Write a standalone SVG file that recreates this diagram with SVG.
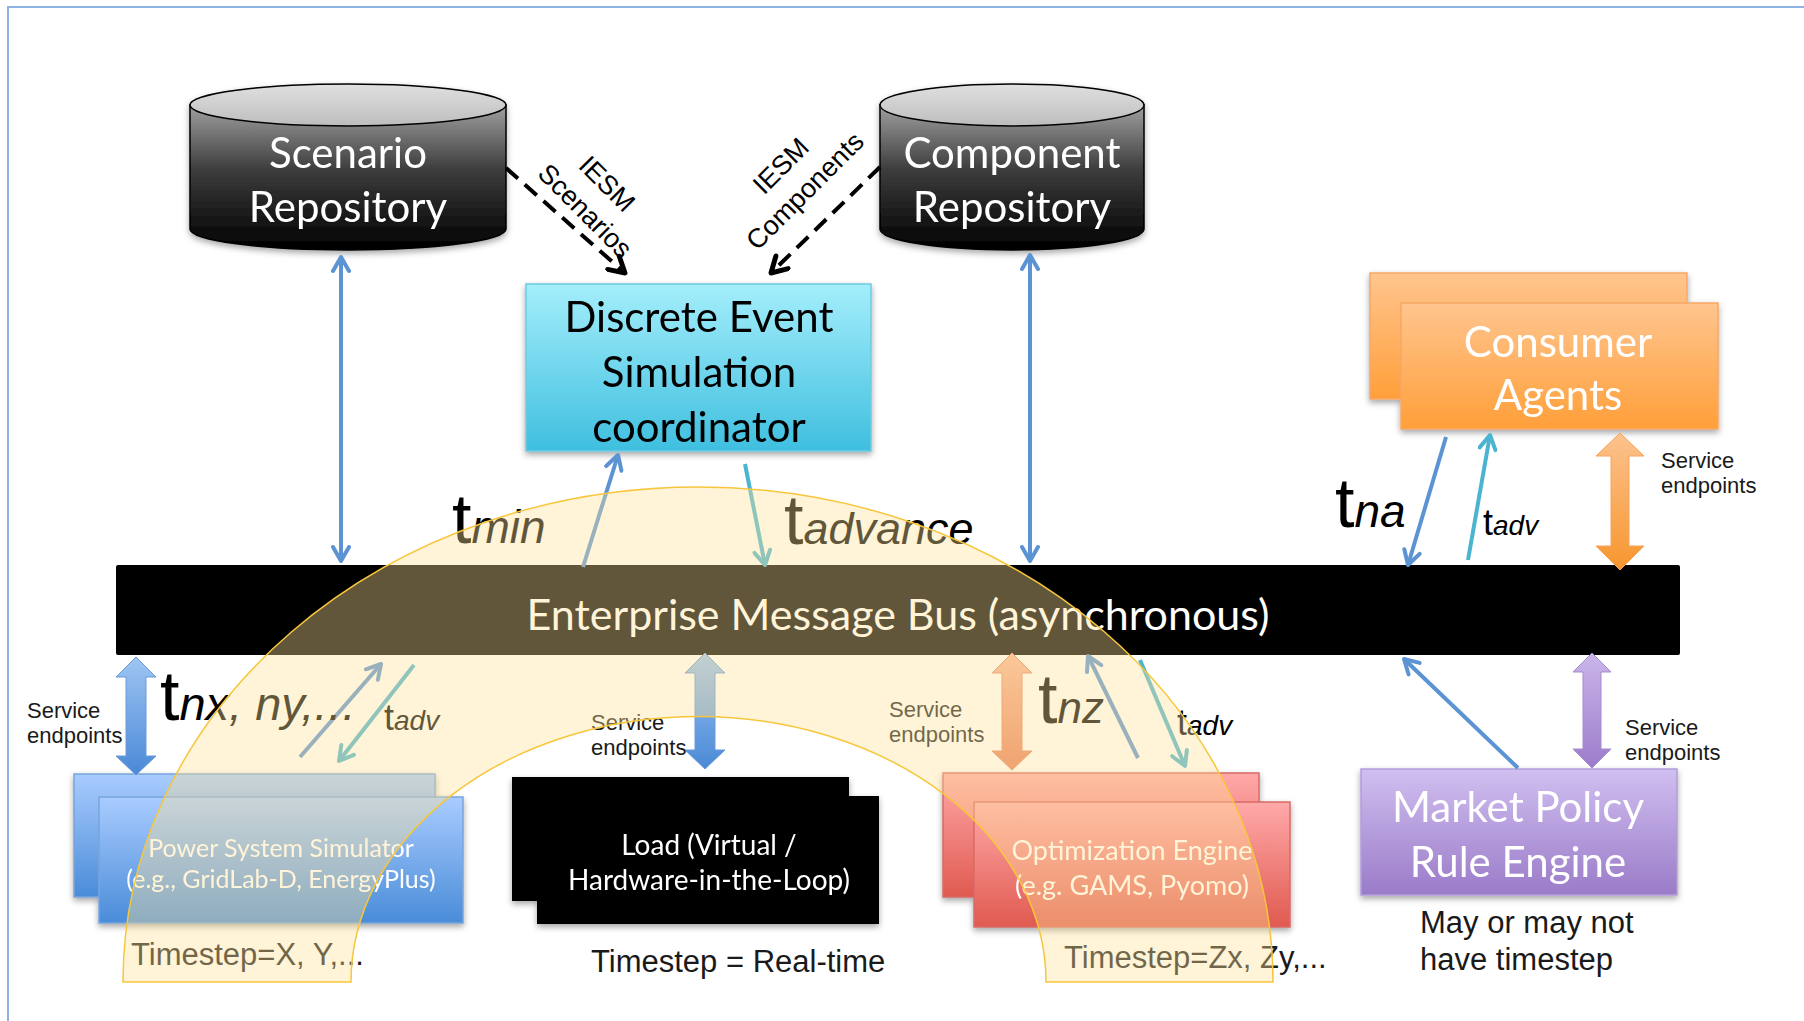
<svg xmlns="http://www.w3.org/2000/svg" width="1804" height="1021" viewBox="0 0 1804 1021">
<style>
.box{font-family:Lato,"Open Sans",sans-serif;text-anchor:middle}
.lbl{font-family:"Liberation Sans",Arial,sans-serif}
.se{font-family:"Liberation Sans",Arial,sans-serif;font-size:22px;fill:#1a1a1a}
.ts{font-family:"Liberation Sans",Arial,sans-serif;font-size:31px;fill:#1a1a1a}
.blue{stroke:#5b93d3;stroke-width:4;fill:none}
.teal{stroke:#4bb4d0;stroke-width:4;fill:none}
.dash{stroke:#000;stroke-width:4;fill:none;stroke-dasharray:16 9}
.it{font-style:italic}
</style>
<defs>
<filter id="sh" x="-10%" y="-10%" width="120%" height="130%"><feDropShadow dx="0" dy="3" stdDeviation="3" flood-color="#000" flood-opacity="0.35"/></filter>
<linearGradient id="gCylBody" x1="0" y1="0" x2="0" y2="1"><stop offset="0" stop-color="#a0a0a0"/><stop offset="0.45" stop-color="#3c3c3c"/><stop offset="1" stop-color="#000"/></linearGradient>
<linearGradient id="gCylTop" x1="0" y1="0" x2="0" y2="1"><stop offset="0" stop-color="#e0e0e0"/><stop offset="1" stop-color="#bdbdbd"/></linearGradient>
<linearGradient id="gDes" x1="0" y1="0" x2="0" y2="1"><stop offset="0" stop-color="#a4eefb"/><stop offset="1" stop-color="#3fbfdf"/></linearGradient>
<linearGradient id="gOr" x1="0" y1="0" x2="0" y2="1"><stop offset="0" stop-color="#ffc58e"/><stop offset="1" stop-color="#ff9f3a"/></linearGradient>
<linearGradient id="gBl" x1="0" y1="0" x2="0" y2="1"><stop offset="0" stop-color="#a9ccff"/><stop offset="1" stop-color="#4a8cd8"/></linearGradient>
<linearGradient id="gRd" x1="0" y1="0" x2="0" y2="1"><stop offset="0" stop-color="#ffa9a9"/><stop offset="1" stop-color="#e05a50"/></linearGradient>
<linearGradient id="gPu" x1="0" y1="0" x2="0" y2="1"><stop offset="0" stop-color="#d0bff0"/><stop offset="1" stop-color="#9a7bc8"/></linearGradient>
<linearGradient id="aBl" x1="0" y1="0" x2="0" y2="1"><stop offset="0" stop-color="#9fc5f4"/><stop offset="1" stop-color="#4a89d6"/></linearGradient>
<linearGradient id="aOr" x1="0" y1="0" x2="0" y2="1"><stop offset="0" stop-color="#fcc28e"/><stop offset="1" stop-color="#f7962e"/></linearGradient>
<linearGradient id="aRd" x1="0" y1="0" x2="0" y2="1"><stop offset="0" stop-color="#f9b79a"/><stop offset="1" stop-color="#e67e5a"/></linearGradient>
<linearGradient id="aPu" x1="0" y1="0" x2="0" y2="1"><stop offset="0" stop-color="#cbb6ea"/><stop offset="1" stop-color="#9b7ccb"/></linearGradient>
<marker id="mB" viewBox="0 0 20 20" refX="17" refY="10" markerWidth="20" markerHeight="20" markerUnits="userSpaceOnUse" orient="auto-start-reverse"><path d="M3,2 L17,10 L3,18" fill="none" stroke="#5b93d3" stroke-width="4" stroke-linecap="round" stroke-linejoin="round"/></marker>
<marker id="mT" viewBox="0 0 20 20" refX="17" refY="10" markerWidth="20" markerHeight="20" markerUnits="userSpaceOnUse" orient="auto-start-reverse"><path d="M3,2 L17,10 L3,18" fill="none" stroke="#4bb4d0" stroke-width="4" stroke-linecap="round" stroke-linejoin="round"/></marker>
<marker id="mK" viewBox="0 0 20 20" refX="17" refY="10" markerWidth="22" markerHeight="22" markerUnits="userSpaceOnUse" orient="auto"><path d="M3,2 L17,10 L3,18" fill="none" stroke="#000" stroke-width="4.5" stroke-linecap="round" stroke-linejoin="round"/></marker>
</defs>

<rect x="8" y="7" width="1900" height="1100" fill="#fff" stroke="#8eb4e3" stroke-width="2"/>

<g id="scenario-repo" filter="url(#sh)">
<path d="M190,105 V229 A158,21 0 0 0 506,229 V105 Z" fill="url(#gCylBody)" stroke="#000" stroke-width="1.5"/>
<ellipse cx="348" cy="105" rx="158" ry="21" fill="url(#gCylTop)" stroke="#000" stroke-width="1.5"/>
<text class="box" x="348" y="168" font-size="42" fill="#fff">Scenario</text>
<text class="box" x="348" y="222" font-size="42" fill="#fff">Repository</text>
</g>

<g id="component-repo" filter="url(#sh)">
<path d="M880,105 V229 A132,21 0 0 0 1144,229 V105 Z" fill="url(#gCylBody)" stroke="#000" stroke-width="1.5"/>
<ellipse cx="1012" cy="105" rx="132" ry="21" fill="url(#gCylTop)" stroke="#000" stroke-width="1.5"/>
<text class="box" x="1012" y="168" font-size="42" fill="#fff">Component</text>
<text class="box" x="1012" y="222" font-size="42" fill="#fff">Repository</text>
</g>

<g id="des-coordinator" filter="url(#sh)">
<rect x="526" y="284" width="345" height="167" fill="url(#gDes)" stroke="#6ccbe2" stroke-width="1.5"/>
<text class="box" x="699" y="332" font-size="42" fill="#000">Discrete Event</text>
<text class="box" x="699" y="387" font-size="42" fill="#000">Simulation</text>
<text class="box" x="699" y="442" font-size="42" fill="#000">coordinator</text>
</g>

<g id="consumer-agents" filter="url(#sh)">
<rect x="1370" y="273" width="317" height="126" fill="url(#gOr)" stroke="#f6a867" stroke-width="1.5"/>
<rect x="1401" y="303" width="317" height="126" fill="url(#gOr)" stroke="#f6a867" stroke-width="1.5"/>
<text class="box" x="1558" y="357" font-size="42" fill="#fff">Consumer</text>
<text class="box" x="1558" y="410" font-size="42" fill="#fff">Agents</text>
</g>

<g id="message-bus">
<rect x="116" y="565" width="1564" height="90" rx="2" fill="#000"/>
<text class="box" x="898" y="630" font-size="43" fill="#fff">Enterprise Message Bus (asynchronous)</text>
</g>

<g id="power-sim" filter="url(#sh)">
<rect x="74" y="774" width="361" height="123" fill="url(#gBl)" stroke="#78a4dc" stroke-width="1.5"/>
<rect x="99" y="797" width="364" height="126" fill="url(#gBl)" stroke="#78a4dc" stroke-width="1.5"/>
<text class="box" x="281" y="857" font-size="25" fill="#fff">Power System Simulator</text>
<text class="box" x="281" y="888" font-size="25" fill="#fff">(e.g., GridLab-D, EnergyPlus)</text>
</g>

<g id="load" filter="url(#sh)">
<rect x="512" y="777" width="337" height="124" fill="#000"/>
<rect x="537" y="796" width="342" height="128" fill="#000"/>
<text class="box" x="709" y="855" font-size="28" fill="#fff">Load (Virtual /</text>
<text class="box" x="709" y="890" font-size="28" fill="#fff">Hardware-in-the-Loop)</text>
</g>

<g id="optimization" filter="url(#sh)">
<rect x="943" y="773" width="316" height="124" fill="url(#gRd)" stroke="#d86a66" stroke-width="1.5"/>
<rect x="974" y="802" width="316" height="125" fill="url(#gRd)" stroke="#d86a66" stroke-width="1.5"/>
<text class="box" x="1132" y="860" font-size="27" fill="#fff">Optimization Engine</text>
<text class="box" x="1132" y="895" font-size="27" fill="#fff">(e.g. GAMS, Pyomo)</text>
</g>

<g id="market-policy" filter="url(#sh)">
<rect x="1361" y="769" width="316" height="126" fill="url(#gPu)" stroke="#b39dda" stroke-width="1.5"/>
<text class="box" x="1518" y="822" font-size="42" fill="#fff">Market Policy</text>
<text class="box" x="1518" y="877" font-size="42" fill="#fff">Rule Engine</text>
</g>

<g id="connectors">
<line class="blue" x1="341" y1="257" x2="341" y2="561" marker-start="url(#mB)" marker-end="url(#mB)"/>
<line class="blue" x1="1030" y1="255" x2="1030" y2="561" marker-start="url(#mB)" marker-end="url(#mB)"/>
<line class="dash" x1="506" y1="168" x2="625" y2="273" marker-end="url(#mK)"/>
<line class="dash" x1="880" y1="167" x2="771" y2="273" marker-end="url(#mK)"/>
<line class="blue" x1="583" y1="567" x2="618" y2="455" marker-end="url(#mB)"/>
<line class="teal" x1="745" y1="464" x2="765" y2="565" marker-end="url(#mT)"/>
<line class="blue" x1="1446" y1="437" x2="1408" y2="565" marker-end="url(#mB)"/>
<line class="teal" x1="1468" y1="560" x2="1490" y2="435" marker-end="url(#mT)"/>
<line class="blue" x1="300" y1="757" x2="381" y2="664" marker-end="url(#mB)"/>
<line class="teal" x1="414" y1="665" x2="339" y2="761" marker-end="url(#mT)"/>
<line class="blue" x1="1138" y1="758" x2="1088" y2="656" marker-end="url(#mB)"/>
<line class="teal" x1="1140" y1="660" x2="1185" y2="766" marker-end="url(#mT)"/>
<line class="blue" x1="1518" y1="768" x2="1404" y2="659" marker-end="url(#mB)"/>
<polygon fill="url(#aOr)" stroke="#f5a45a" stroke-width="1" points="1620,433 1644,456 1629,456 1629,546 1644,546 1620,570 1596,546 1611,546 1611,456 1596,456"/>
<polygon fill="url(#aBl)" stroke="#6a9ad6" stroke-width="1" points="136,657 156,677 146,677 146,756 156,756 136,775 116,756 126,756 126,677 116,677"/>
<polygon fill="url(#aBl)" stroke="#6a9ad6" stroke-width="1" points="705,653 725,673 715,673 715,750 725,750 705,769 685,750 695,750 695,673 685,673"/>
<polygon fill="url(#aRd)" stroke="#e28a6a" stroke-width="1" points="1012,653 1032,673 1022,673 1022,751 1032,751 1012,770 992,751 1002,751 1002,673 992,673"/>
<polygon fill="url(#aPu)" stroke="#a58bd0" stroke-width="1" points="1592,653 1611,672 1601,672 1601,749 1611,749 1592,768 1573,749 1583,749 1583,672 1573,672"/>
</g>

<g id="labels">
<g class="lbl" font-size="27" fill="#000" text-anchor="middle">
<text transform="translate(607,184) rotate(45)" y="9">IESM</text>
<text transform="translate(585,211) rotate(45)" y="9">Scenarios</text>
<text transform="translate(781,166) rotate(-45)" y="9">IESM</text>
<text transform="translate(805,191) rotate(-45)" y="9">Components</text>
</g>
<g class="lbl" fill="#000">
<text x="452" y="543" font-size="70">t<tspan class="it" font-size="46">min</tspan></text>
<text x="784" y="544" font-size="70">t<tspan class="it" font-size="45">advance</tspan></text>
<text x="1335" y="527" font-size="70">t<tspan class="it" font-size="46">na</tspan></text>
<text x="1483" y="535" font-size="36">t<tspan class="it" font-size="28">adv</tspan></text>
<text x="160" y="720" font-size="70">t<tspan class="it" font-size="47">nx, ny,<tspan letter-spacing="1">...</tspan></tspan></text>
<text x="384" y="730" font-size="36">t<tspan class="it" font-size="28">adv</tspan></text>
<text x="1038" y="723" font-size="70">t<tspan class="it" font-size="44">nz</tspan></text>
<text x="1177" y="735" font-size="36">t<tspan class="it" font-size="28">adv</tspan></text>
</g>
<text class="se" x="27" y="718">Service</text><text class="se" x="27" y="743">endpoints</text>
<text class="se" x="591" y="730">Service</text><text class="se" x="591" y="755">endpoints</text>
<text class="se" x="889" y="717">Service</text><text class="se" x="889" y="742">endpoints</text>
<text class="se" x="1625" y="735">Service</text><text class="se" x="1625" y="760">endpoints</text>
<text class="se" x="1661" y="468">Service</text><text class="se" x="1661" y="493">endpoints</text>
<text class="ts" x="131" y="965">Timestep=X, Y,...</text>
<text class="ts" x="591" y="972">Timestep = Real-time</text>
<text class="ts" x="1064" y="968">Timestep=Zx, Zy,...</text>
<text class="ts" x="1420" y="933">May or may not</text>
<text class="ts" x="1420" y="970">have timestep</text>
</g>

<path id="time-arc" d="M123,982 A575,495 0 0 1 1273,982 L1046,982 A347,265 0 0 0 351,982 Z" fill="rgb(255,226,150)" fill-opacity="0.38" stroke="#f7c63c" stroke-width="1.5"/>
</svg>
